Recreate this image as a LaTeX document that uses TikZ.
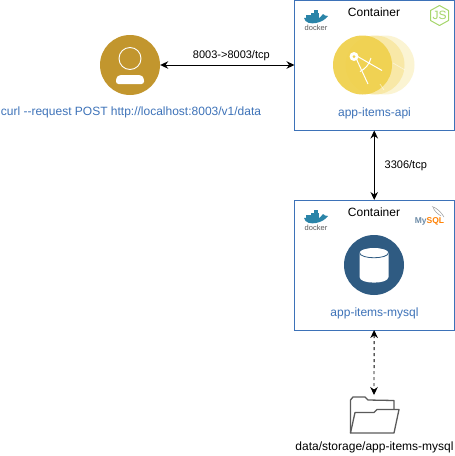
\documentclass[tikz,border=0pt]{standalone}
\usepackage{fontspec}
\setmainfont{Liberation Sans}
\usetikzlibrary{arrows.meta}
\definecolor{boxblue}{HTML}{3D72B8}
\definecolor{usergold}{HTML}{C2962E}
\definecolor{apiyellow}{HTML}{F0D14F}
\definecolor{dbblue}{HTML}{2F5B82}
\definecolor{dockerblue}{HTML}{2A84A8}
\definecolor{nodegreen}{HTML}{A5D66A}
\definecolor{folderline}{HTML}{5A5A5A}
\tikzset{
  containerbox/.style={draw=boxblue, line width=1pt, fill=white, minimum width=159.5pt, minimum height=130pt, inner sep=0pt, outer sep=0pt, anchor=north west},
  bluelabel/.style={text=boxblue, font=\fontsize{12}{14}\selectfont, inner sep=0pt},
  blacklabel/.style={text=black, font=\fontsize{12}{14}\selectfont, inner sep=0pt},
  portlabel/.style={text=black, font=\fontsize{11}{13}\selectfont, inner sep=0pt},
  link/.style={line width=0.9pt, {Stealth[length=8pt,width=7.5pt]}-{Stealth[length=8pt,width=7.5pt]}},
  dockertext/.style={text=black!65, font=\fontsize{7.5}{8}\selectfont, inner sep=0pt},
}
\begin{document}
\begin{tikzpicture}[x=1pt, y=-1pt]
        \useasboundingbox (0,0) rectangle (455,456);
        % Containers
        \node[containerbox] (apibox) at (294.5,0.5) {};
        \node[containerbox] (mysqlbox) at (294.5,200) {};
        \node[blacklabel] (apititle) at (374,12) {Container};
        \node[blacklabel] (mysqltitle) at (374,212) {Container};

        % User
        \node[circle, fill=usergold, minimum size=60pt, inner sep=0pt] (user) at (130,65) {};
        \draw[white, line width=0.9pt] (130,58.5) circle (11pt);
        \fill[white, rounded corners=2.5pt] (116,84) -- (116,78) -- (119,75) -- (141,75) -- (144,78) -- (144,84) -- cycle;
        \node[bluelabel] (curl) at (131,112.5) {curl {-}{-}request POST http://localhost:8003/v1/data};

        % Api service
        \fill[apiyellow!25] (385,65) circle (29.5pt);
        \fill[apiyellow!50] (375,65) circle (29.5pt);
        \node[circle, fill=apiyellow, fill opacity=0.95, minimum size=59pt, inner sep=0pt] (api) at (362.5,65) {};
        \draw[white, line width=1pt] (355,55) -- (382,70.5);
        \draw[white, line width=1pt] (355,56) -- (368,84);
        \draw[white, line width=1pt] (360,71.5) .. controls (365,69) and (369,65) .. (371,58);
        \fill[white] (354,56.5) circle (4.5pt);
        \fill[apiyellow] (354,56.5) circle (1.5pt);
        \draw[white, opacity=0.5, line width=0.7pt] (393,63) -- (405,70);
        \draw[white, opacity=0.5, line width=0.7pt] (380,84) -- (384,90);
        \node[bluelabel] (apilabel) at (374.5,113) {app-items-api};

        % Mysql service
        \node[circle, fill=dbblue, minimum size=60pt, inner sep=0pt] (mysql) at (374,265) {};
        \fill[white] (359.5,253) -- (359.5,277) .. controls (359.5,284.5) and (388.5,284.5) .. (388.5,277) -- (388.5,253) -- cycle;
        \fill[white] (374,253) ellipse (14.5pt and 5pt);
        \draw[dbblue, line width=0.8pt] (359.5,252.5) .. controls (359.5,259.5) and (388.5,259.5) .. (388.5,252.5);
        \node[bluelabel] (mysqllabel) at (374.5,313) {app-items-mysql};

        % Docker logos
        \foreach \dy/\dname in {0/a, 200/b} {
          \fill[dockerblue] (304,\dy+18) .. controls (305,\dy+23) and (311,\dy+24) .. (316,\dy+23)
            .. controls (321,\dy+22) and (325,\dy+20) .. (328,\dy+16)
            .. controls (326,\dy+16) and (324,\dy+15.5) .. (323,\dy+14) -- (320,\dy+17.5) -- cycle;
          \fill[dockerblue] (306,\dy+15) rectangle (319,\dy+18);
          \fill[dockerblue] (311,\dy+12.5) rectangle (319,\dy+15);
          \fill[dockerblue] (314,\dy+10) rectangle (318,\dy+12.5);
          \node[dockertext] (docker\dname) at (316,\dy+28) {docker};
        }

        % Node logo
        \draw[nodegreen, line width=1pt, line join=round] (439.5,5.5) -- (448.5,10.5) -- (448.5,20.5) -- (439.5,25.5) -- (430.5,20.5) -- (430.5,10.5) -- cycle;
        \node[text=nodegreen, inner sep=0pt, font=\fontsize{12}{13}\selectfont] (nodejs) at (439.5,15.5) {JS};

        % Mysql logo
        \draw[black!40, line width=0.5pt] (432,206.5) .. controls (437,208) and (441,212) .. (444,217);
        \draw[black!40, line width=0.5pt] (433,207) .. controls (434,211) and (438,214) .. (441,216);
        \node[inner sep=0pt, font=\fontsize{8.5}{9}\selectfont\bfseries] (mysqllogo) at (429.5,221.5) {\textcolor{dbblue!70}{My}\textcolor{orange}{SQL}};

        % Folder
        \coordinate (foldertop) at (374,395);
        \draw[folderline, line width=1.3pt, line join=round] (350.5,433) -- (350.5,400) -- (353,397) -- (365,397) -- (368,400) -- (394,400.5) -- (394,409);
        \draw[folderline, line width=1.3pt, line join=round] (350.5,433) -- (394,433) -- (399,409.5) -- (377,409.5) -- (374,412.5) -- (355,412.5) -- cycle;
        \node[blacklabel] (folderlabel) at (374.5,447.5) {data/storage/app-items-mysql};

        % Connectors
        \draw[link] (user) -- (apibox.west |- user) node[midway, above=4pt, xshift=4pt, portlabel] (portlabel) {8003->8003/tcp};
        \draw[link] (apibox) -- (mysqlbox) node[midway, right=10pt, portlabel] (dblabel) {3306/tcp};
        \draw[link, dashed] (mysqlbox) -- (foldertop);
\end{tikzpicture}
\end{document}
